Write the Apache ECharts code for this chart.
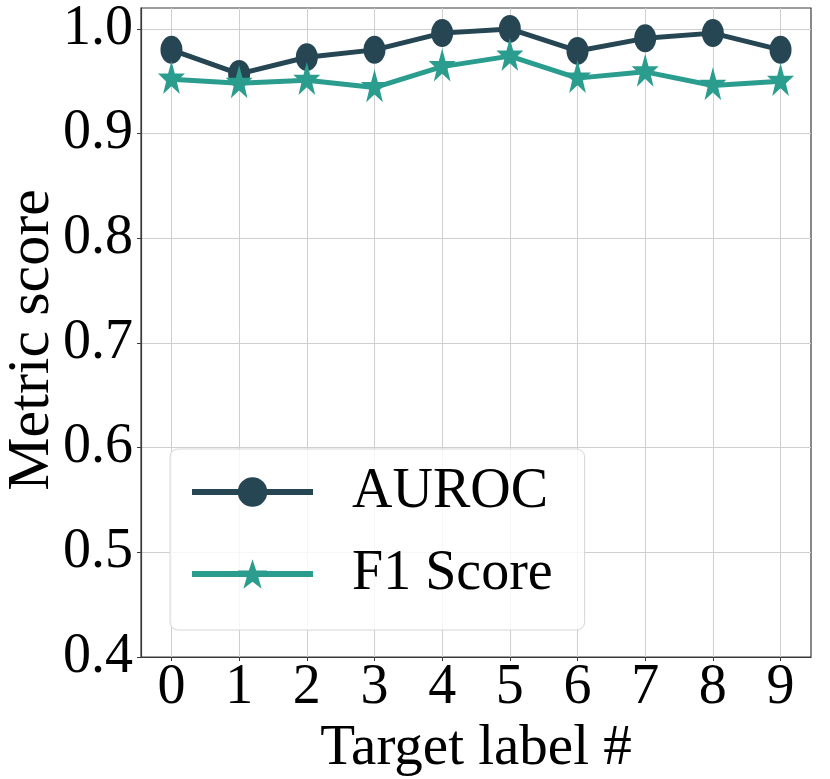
<!DOCTYPE html>
<html>
<head>
<meta charset="utf-8">
<script src="https://cdn.jsdelivr.net/npm/echarts@6/dist/echarts.min.js"></script>
<style>
html,body{margin:0;padding:0;background:#fff;}
#chart{width:830px;height:779px;}
</style>
</head>
<body>
<div id="chart"></div>
<script>
const targetLabels = [0, 1, 2, 3, 4, 5, 6, 7, 8, 9];
const aurocValues = [0.980, 0.957, 0.973, 0.980, 0.996, 1.000, 0.979, 0.991, 0.996, 0.980];
const f1Values = [0.952, 0.948, 0.951, 0.944, 0.964, 0.974, 0.953, 0.959, 0.946, 0.950];
const yTicks = [0.4, 0.5, 0.6, 0.7, 0.8, 0.9, 1.0];
const xTitle = 'Target label #';
const yTitle = 'Metric score';

const FONT = 'Liberation Serif';
const STAR = 'path://M50,0 L61.76,34.55 L97.55,34.55 L68.82,55.9 L79.39,90.45 L50,69.1 L20.61,90.45 L31.18,55.9 L2.45,34.55 L38.24,34.55 Z';

const chart = echarts.init(document.getElementById('chart'), null, {renderer: 'canvas'});
chart.setOption({
  backgroundColor: '#ffffff',
  animation: false,
  grid: {
    left: 141, right: 19, top: 8, bottom: 122,
    outerBoundsMode: 'none', containLabel: false,
    show: true, borderColor: '#3a3a3a', borderWidth: 1.2, backgroundColor: 'transparent'
  },
  graphic: [{
    type: 'text',
    x: 32, y: 340,
    rotation: Math.PI / 2,
    style: {
      text: yTitle, fontFamily: FONT, fontSize: 60, fill: '#000',
      textAlign: 'center', textVerticalAlign: 'middle'
    }
  }],
  legend: {
    orient: 'vertical',
    left: 170, top: 449,
    data: ['AUROC', 'F1 Score'],
    itemWidth: 121, itemHeight: 37,
    itemGap: 26,
    padding: [15, 32, 28, 19],
    backgroundColor: 'rgba(255,255,255,0.8)',
    borderColor: '#d6d6d6', borderWidth: 1, borderRadius: 8,
    lineStyle: {width: 6},
    textStyle: {fontFamily: FONT, fontSize: 56, color: '#000', lineHeight: 56, padding: [0, 0, 0, 34]}
  },
  xAxis: {
    type: 'value',
    min: -0.45, max: 9.45,
    name: xTitle,
    nameLocation: 'middle', nameGap: 52,
    nameTextStyle: {fontFamily: FONT, fontSize: 57, color: '#000'},
    axisLine: {show: true, onZero: false, lineStyle: {color: '#3a3a3a', width: 1.2}},
    axisTick: {show: true, customValues: targetLabels, length: 4, lineStyle: {color: '#3a3a3a'}},
    axisLabel: {customValues: targetLabels, fontFamily: FONT, fontSize: 56, color: '#000', margin: 3},
    splitLine: {show: true, lineStyle: {color: '#cfcfcf', width: 1}}
  },
  yAxis: {
    type: 'value',
    min: 0.4, max: 1.02,
    axisLine: {show: true, onZero: false, lineStyle: {color: '#3a3a3a', width: 1.2}},
    axisTick: {show: true, customValues: yTicks, length: 4, lineStyle: {color: '#3a3a3a'}},
    axisLabel: {customValues: yTicks, fontFamily: FONT, fontSize: 56, color: '#000', margin: 8,
      formatter: v => v.toFixed(1)},
    splitLine: {show: true, lineStyle: {color: '#cfcfcf', width: 1}}
  },
  series: [
    {
      name: 'AUROC', type: 'line',
      data: targetLabels.map((x, i) => [x, aurocValues[i]]),
      symbol: 'circle', symbolSize: [22, 28],
      lineStyle: {color: '#264653', width: 5},
      itemStyle: {color: '#264653'},
      z: 3
    },
    {
      name: 'F1 Score', type: 'line',
      data: targetLabels.map((x, i) => [x, f1Values[i]]),
      symbol: STAR, symbolSize: [27, 33], symbolOffset: [0, -1.7],
      lineStyle: {color: '#2a9d8f', width: 5},
      itemStyle: {color: '#2a9d8f'},
      z: 4
    }
  ]
});
</script>
</body>
</html>
